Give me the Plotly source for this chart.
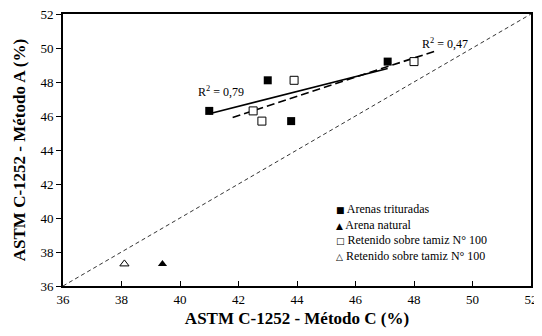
import numpy as np
import plotly.graph_objects as go

# Arenas trituradas (filled squares)
trit_x = [41.0, 43.0, 43.8, 47.1]
trit_y = [46.3, 48.1, 45.7, 49.2]
# Arena natural (filled triangle)
nat_x = [39.4]
nat_y = [37.3]
# Retenido sobre tamiz N° 100 (open squares)
ret_x = [42.5, 42.8, 43.9, 48.0]
ret_y = [46.3, 45.7, 48.1, 49.2]
# Retenido sobre tamiz N° 100 (open triangle)
retn_x = [38.1]
retn_y = [37.3]

# trend line extents
trit_fit_x = [41.0, 47.1]
ret_fit_x = [41.8, 48.8]
ident = [36, 52]

legend_names = ["Arenas trituradas", "Arena natural",
                "Retenido sobre tamiz N° 100", "Retenido sobre tamiz N° 100"]
legend_glyphs = ["■", "▲", "□", "△"]

FONT = "Liberation Serif, Times New Roman, serif"

fig = go.Figure()

# 1:1 line
fig.add_trace(go.Scatter(x=ident, y=ident, mode="lines",
                         line=dict(color="black", width=0.8, dash="4px,3px"),
                         hoverinfo="skip"))

# linear fits
p1 = np.polyfit(trit_x, trit_y, 1)
fig.add_trace(go.Scatter(x=trit_fit_x, y=np.polyval(p1, trit_fit_x), mode="lines",
                         line=dict(color="black", width=1.6), hoverinfo="skip"))
p2 = np.polyfit(ret_x, ret_y, 1)
fig.add_trace(go.Scatter(x=ret_fit_x, y=np.polyval(p2, ret_fit_x), mode="lines",
                         line=dict(color="black", width=1.6, dash="8px,4px"),
                         hoverinfo="skip"))

fig.add_trace(go.Scatter(x=trit_x, y=trit_y, mode="markers", name=legend_names[0],
                         marker=dict(symbol="square", size=8, color="black")))
fig.add_trace(go.Scatter(x=nat_x, y=nat_y, mode="markers", name=legend_names[1],
                         marker=dict(symbol="triangle-up", size=8, color="black")))
fig.add_trace(go.Scatter(x=ret_x, y=ret_y, mode="markers", name=legend_names[2],
                         marker=dict(symbol="square", size=8, color="white",
                                     line=dict(color="black", width=1))))
fig.add_trace(go.Scatter(x=retn_x, y=retn_y, mode="markers", name=legend_names[3],
                         marker=dict(symbol="triangle-up", size=8, color="white",
                                     line=dict(color="black", width=1))))

fig.add_annotation(x=41.4, y=47.45, text="R<sup>2</sup> = 0,79", showarrow=False,
                   font=dict(family=FONT, size=12, color="black"))
fig.add_annotation(x=49.05, y=50.25, text="R<sup>2</sup> = 0,47", showarrow=False,
                   font=dict(family=FONT, size=12, color="black"))

# legend drawn as text block like the original
rows = ['<span style="font-family:DejaVu Sans;font-size:9px">%s</span> %s' % (g, n)
        for g, n in zip(legend_glyphs, legend_names)]
fig.add_annotation(x=0.58, y=0.315, xref="paper", yref="paper", xanchor="left", yanchor="top",
                   align="left", showarrow=False, text="<br>".join(rows),
                   font=dict(family=FONT, size=12, color="black"))

axis_common = dict(range=[36, 52], dtick=2, showgrid=False, zeroline=False,
                   showline=True, linecolor="black", linewidth=2, mirror=True,
                   ticklen=5, tickwidth=1, tickcolor="black", automargin=False,
                   ticklabeloverflow="allow",
                   tickfont=dict(family=FONT, size=13, color="black"))

fig.update_xaxes(**axis_common, ticks="inside",
                 title=dict(text="<b>ASTM C-1252 - Método C (%)</b>",
                            font=dict(family=FONT, size=17, color="black"), standoff=14))
fig.update_yaxes(**axis_common, ticks="outside",
                 title=dict(text="<b>ASTM C-1252 - Método A (%)</b>",
                            font=dict(family=FONT, size=17, color="black"), standoff=10))

# page body adds 8px around the figure, so size it to fit the window
fig.update_layout(
    width=534, height=320,
    margin=dict(l=55, r=11, t=6, b=42),
    plot_bgcolor="white", paper_bgcolor="white",
    showlegend=False,
)

fig.write_html("out.html")
